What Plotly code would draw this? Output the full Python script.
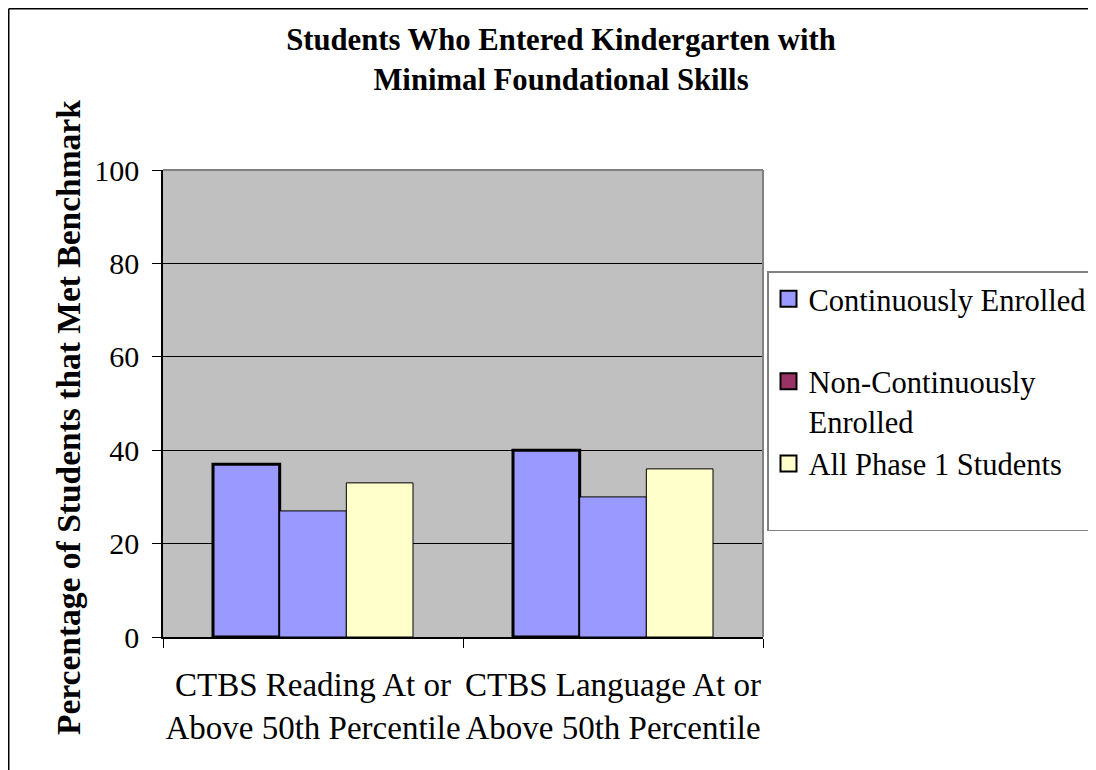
import plotly.graph_objects as go

categories = ["CTBS Reading At or<br>Above 50th Percentile",
              "CTBS Language At or<br>Above 50th Percentile"]
continuously = [37, 40]
non_continuously = [27, 30]
all_phase1 = [33, 36]
series_names = ["Continuously Enrolled", "Non-Continuously<br>Enrolled", "All Phase 1 Students"]
y_ticks = [0, 20, 40, 60, 80, 100]

# page body adds an 8px margin; size the canvas so it ends at the window edge
OFF = 8
W, H = 1096 - OFF, 770 - OFF
L, R, T, B = 163 - OFF, 763 - OFF, 170 - OFF, 637 - OFF
FONT = "Liberation Serif, Times New Roman, serif"

fig = go.Figure()
fig.add_bar(x=categories, y=continuously, name=series_names[0], showlegend=False,
            marker=dict(color="#9999FF", line=dict(color="black", width=3)))
fig.add_bar(x=categories, y=non_continuously, name=series_names[1], showlegend=False,
            marker=dict(color="#9999FF", line=dict(color="black", width=1)))
fig.add_bar(x=categories, y=all_phase1, name=series_names[2], showlegend=False,
            marker=dict(color="#FFFFCC", line=dict(color="black", width=1)))

# legend entries
legend_cols = ["#9999FF", "#993366", "#FFFFCC"]
legend_names = [series_names[0] + "<br> ", series_names[1], series_names[2] + "<br> "]
for nm, c in zip(legend_names, legend_cols):
    fig.add_scatter(x=[None], y=[None], mode="markers", name=nm,
                    marker=dict(symbol="square", size=16, color=c,
                                line=dict(color="black", width=2)))

def px_x(p):  # reference pixel -> paper
    return (p - OFF - L) / (R - L)

def px_y(p):
    return (B - (p - OFF)) / (B - T)

shapes = [
    dict(type="line", xref="paper", yref="paper", x0=0, x1=1, y0=1, y1=1,
         line=dict(color="#808080", width=2)),
    dict(type="line", xref="paper", yref="paper", x0=1, x1=1, y0=0, y1=1,
         line=dict(color="#808080", width=2)),
    # outer chart border (left and top)
    dict(type="line", xref="paper", yref="paper", x0=px_x(8.75), x1=px_x(1300),
         y0=px_y(8.75), y1=px_y(8.75), line=dict(color="black", width=1.5)),
    dict(type="line", xref="paper", yref="paper", x0=px_x(8.75), x1=px_x(8.75),
         y0=px_y(8.75), y1=px_y(1000), line=dict(color="black", width=1.5)),
]

annotations = [
    dict(text="<b>Percentage of Students that Met Benchmark</b>", textangle=-90,
         xref="paper", yref="paper", x=px_x(68), y=px_y(418),
         xanchor="center", yanchor="middle", showarrow=False,
         font=dict(size=33.5, family=FONT, color="black")),
]

fig.update_layout(
    width=W, height=H,
    margin=dict(l=L, r=W - R, t=T, b=H - B, autoexpand=False),
    paper_bgcolor="white",
    plot_bgcolor="#C0C0C0",
    barmode="group",
    bargap=1/3,
    bargroupgap=0,
    font=dict(family=FONT, color="black", size=30),
    title=dict(text="<b>Students Who Entered Kindergarten with<br>Minimal Foundational Skills</b>",
               x=(561 - OFF) / W, xanchor="center", y=1 - 42 / H, yanchor="top",
               font=dict(size=30.7, family=FONT)),
    xaxis=dict(showline=True, linecolor="black", linewidth=1.5,
               ticks="outside", ticklen=9, tickcolor="black", tickson="boundaries",
               tickfont=dict(size=33), tickangle=0, showgrid=False, ticklabelstandoff=18),
    yaxis=dict(range=[0, 100], tickvals=y_ticks, showline=True, linecolor="black",
               linewidth=1.5, ticks="outside", ticklen=9, tickcolor="black",
               gridcolor="black", gridwidth=1, zeroline=False,
               tickfont=dict(size=30), ticklabelstandoff=7),
    legend=dict(x=px_x(767), y=px_y(271), xanchor="left", yanchor="top",
                bgcolor="white", bordercolor="#808080", borderwidth=1.5,
                font=dict(size=30.5), valign="top", itemwidth=30,
                tracegroupgap=0),
    shapes=shapes,
    annotations=annotations,
)

fig.write_html("out.html")
